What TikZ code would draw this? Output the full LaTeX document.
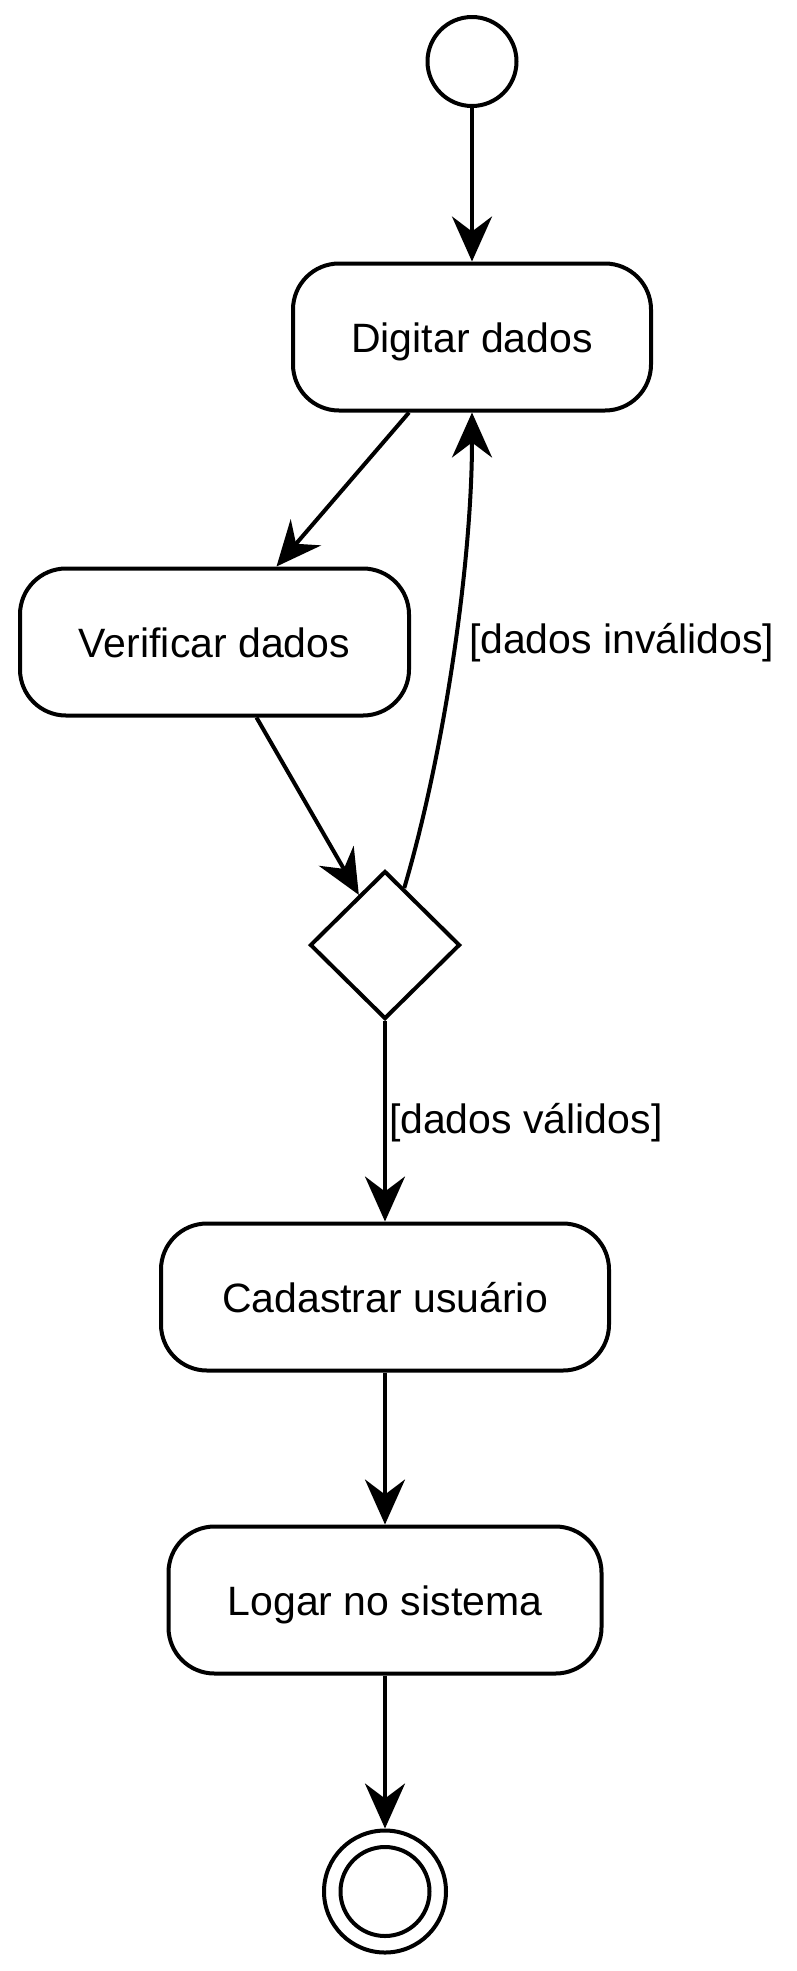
\documentclass[tikz,border=0pt]{standalone}
\usepackage{fontspec}
\setmainfont{Liberation Sans}
\usetikzlibrary{arrows.meta,shapes.geometric,calc}
\begin{document}
\begin{tikzpicture}[x=1pt,y=-1pt, line width=4pt,
  act/.style={draw, rectangle, rounded corners=46pt, minimum height=147pt, text height=30pt, text depth=0pt, inner sep=0pt},
  flow/.style={-{Stealth[length=45pt,width=40pt,inset=15pt]}},
  lbl/.style={anchor=base west, inner sep=0pt},
  every node/.style={font=\fontsize{41}{49}\selectfont}]
\useasboundingbox (0,0) rectangle (796,1971);
\node[draw, circle, minimum size=89pt, inner sep=0pt] (s) at (472,61.5) {};
\node[act, minimum width=358pt] (dig) at (472,337) {Digitar dados};
\node[act, minimum width=389pt] (ver) at (214.5,642) {Verificar dados};
\node[draw, diamond, aspect=1, minimum width=150pt, minimum height=148pt, inner sep=0pt] (d) at (385,945) {};
\node[act, minimum width=448pt] (cad) at (385,1297) {Cadastrar usuário};
\node[act, minimum width=433pt] (log) at (385,1600) {Logar no sistema};
\node[draw, circle, minimum size=122pt, inner sep=0pt] (e) at (385,1891.5) {};
\node[draw, circle, minimum size=89pt, inner sep=0pt] (ei) at (e.center) {};
\draw[flow] (s) -- (dig);
\draw[flow] ([xshift=-63pt]dig.south) -- ([xshift=62pt]ver.north);
\draw[flow] ([xshift=42pt]ver.south) -- ($(d.north)!0.34!(d.west)$);
\draw[flow] ($(d.north)!0.25!(d.east)$) .. controls (445,750) and (472,560) .. (dig.south);
\draw[flow] (d) -- (cad);
\draw[flow] (cad) -- (log);
\draw[flow] (log) -- (e);
\node[lbl] (l1) at (467,653) {[dados inválidos]};
\node[lbl] (l2) at (387,1133) {[dados válidos]};
\end{tikzpicture}
\end{document}
